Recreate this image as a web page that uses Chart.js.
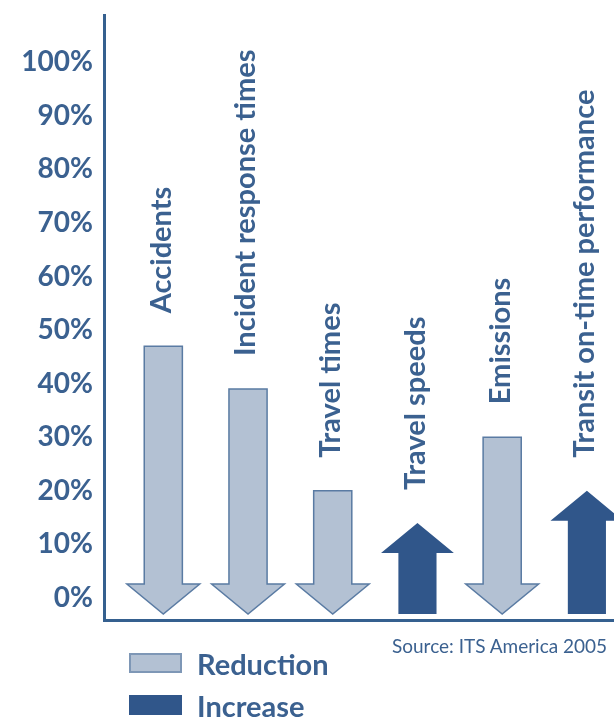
<!DOCTYPE html>
<html>
<head>
<meta charset="utf-8">
<script src="https://cdn.jsdelivr.net/npm/chart.js@4.4.0/dist/chart.umd.min.js"></script>
<style>
  html, body { margin: 0; padding: 0; background: #fff; overflow: hidden; }
  #wrap { position: relative; width: 614px; height: 717px; }
  canvas { display: block; }
  .txt { position: absolute; font-family: Lato, "Open Sans", sans-serif; color: #3b6190; line-height: 1; white-space: nowrap; }
  .lg { font-weight: bold; font-size: 29px; left: 197px; }
  .box { position: absolute; left: 129px; width: 53px; height: 20px; box-sizing: border-box; }
  #source { left: 392px; top: 636px; font-size: 19px; }
</style>
</head>
<body>
<div id="wrap">
  <canvas id="arrowChart" width="614" height="717"></canvas>
  <div id="source" class="txt">Source: ITS America 2005</div>
  <span class="box" style="top:653px;background:#b3c1d3;border:2px solid #7e97b6"></span>
  <div class="txt lg" style="top:649px">Reduction</div>
  <span class="box" style="top:695px;background:#30568a"></span>
  <div class="txt lg" style="top:691px">Increase</div>
</div>
<script>
// カテゴリと値（%）
const categories = ["Accidents", "Incident response times", "Travel times", "Travel speeds", "Emissions", "Transit on-time performance"];
const values = [47, 39, 20, 14, 30, 20];
const directions = ["down", "down", "down", "up", "down", "up"];
const tickValues = [0, 10, 20, 30, 40, 50, 60, 70, 80, 90, 100];

const textColor = "#3b6190";
const lightFill = "#b3c1d3";
const lightStroke = "#5a7ba3";
const darkFill = "#30568a";

// 矢印の根元（0%より少し下）
const arrowBase = -3;

// 矢印を描くプラグイン
const arrowPlugin = {
  id: "arrows",
  afterDatasetsDraw(chart) {
    const ctx = chart.ctx;
    const xs = chart.scales.x;
    const ys = chart.scales.y;
    const unit = xs.getPixelForValue(1) - xs.getPixelForValue(0);
    const shaft = unit * 0.45;
    const head = unit * 0.86;
    const headLen = 30;

    categories.forEach((name, i) => {
      const cx = xs.getPixelForValue(i);
      const yTop = ys.getPixelForValue(values[i]);
      const yBot = ys.getPixelForValue(arrowBase);
      ctx.save();
      ctx.beginPath();
      if (directions[i] === "down") {
        ctx.moveTo(cx - shaft / 2, yTop);
        ctx.lineTo(cx + shaft / 2, yTop);
        ctx.lineTo(cx + shaft / 2, yBot - headLen);
        ctx.lineTo(cx + head / 2, yBot - headLen);
        ctx.lineTo(cx, yBot);
        ctx.lineTo(cx - head / 2, yBot - headLen);
        ctx.lineTo(cx - shaft / 2, yBot - headLen);
        ctx.closePath();
        ctx.fillStyle = lightFill;
        ctx.fill();
        ctx.lineWidth = 1.5;
        ctx.strokeStyle = lightStroke;
        ctx.stroke();
      } else {
        ctx.moveTo(cx - shaft / 2, yBot);
        ctx.lineTo(cx + shaft / 2, yBot);
        ctx.lineTo(cx + shaft / 2, yTop + headLen);
        ctx.lineTo(cx + head / 2, yTop + headLen);
        ctx.lineTo(cx, yTop);
        ctx.lineTo(cx - head / 2, yTop + headLen);
        ctx.lineTo(cx - shaft / 2, yTop + headLen);
        ctx.closePath();
        ctx.fillStyle = darkFill;
        ctx.fill();
      }

      // 縦書きラベル
      ctx.translate(cx - 2, yTop - 33);
      ctx.rotate(-Math.PI / 2);
      ctx.font = "bold 29px Lato, 'Open Sans', sans-serif";
      ctx.fillStyle = textColor;
      ctx.textAlign = "left";
      ctx.textBaseline = "middle";
      ctx.fillText(name, 0, 0);
      ctx.restore();
    });
  },
};

const chart = new Chart(document.getElementById("arrowChart"), {
  type: "scatter",
  data: {
    datasets: [
      {
        data: values.map((v, i) => ({ x: i, y: v })),
        pointRadius: 0,
        pointHoverRadius: 0,
      },
    ],
  },
  options: {
    responsive: false,
    animation: false,
    events: [],
    layout: { padding: { left: 22, top: 15, right: 0, bottom: 97 } },
    plugins: { legend: { display: false }, tooltip: { enabled: false } },
    scales: {
      x: {
        type: "linear",
        min: -0.7,
        max: 5.32,
        grid: { display: false, drawTicks: false },
        ticks: { display: false },
        border: { display: true, color: "#35608f", width: 3 },
        afterFit(scale) {
          scale.height = 0;
          scale.paddingLeft = 0;
          scale.paddingRight = 0;
        },
      },
      y: {
        min: -4.1,
        max: 108.8,
        grid: { display: false, drawTicks: false },
        border: { display: true, color: "#35608f", width: 3 },
        afterBuildTicks(scale) {
          scale.ticks = tickValues.map((v) => ({ value: v }));
        },
        afterFit(scale) {
          scale.width = 82;
          scale.paddingTop = 0;
          scale.paddingBottom = 0;
        },
        ticks: {
          padding: 11,
          color: textColor,
          font: { family: "Lato, 'Open Sans', sans-serif", weight: "bold", size: 28 },
          callback: (v) => v + "%",
        },
      },
    },
  },
  plugins: [arrowPlugin],
});
</script>
</body>
</html>
